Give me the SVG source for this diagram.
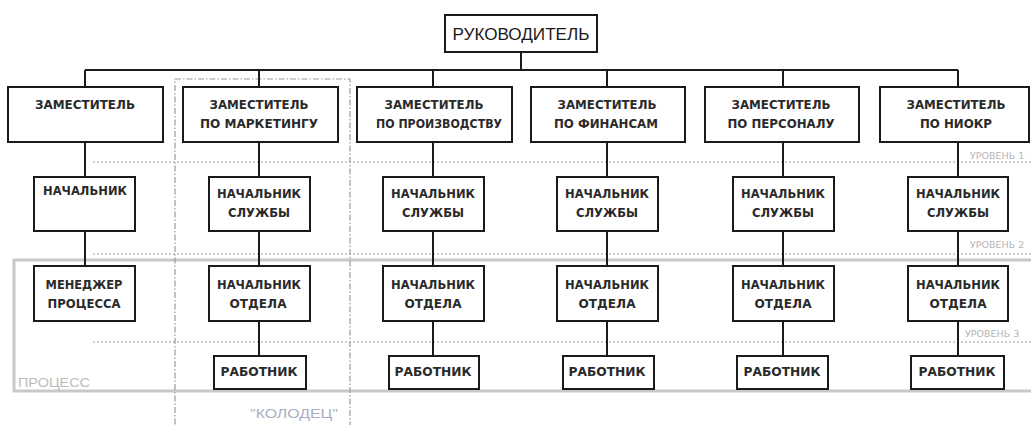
<svg xmlns="http://www.w3.org/2000/svg" width="1031" height="425" viewBox="0 0 1031 425">
  <style>
    .box { fill: #ffffff; stroke: #1a1a1a; stroke-width: 2; }
    .wire { fill: none; stroke: #1a1a1a; stroke-width: 2; }
    .lbl { font-family: "DejaVu Sans", Verdana, sans-serif; font-size: 11.5px; font-weight: bold; fill: #2a2a2a; text-anchor: middle; }
    .title { font-family: "Liberation Sans", Arial, sans-serif; font-size: 17px; fill: #1a1a1a; text-anchor: middle; }
    .level { fill: none; stroke: #9a9a9a; stroke-width: 1; stroke-dasharray: 2 2; }
    .note { font-family: "DejaVu Sans", Verdana, sans-serif; font-size: 9.5px; fill: #b4b4b4; }
    .tag { font-family: "Liberation Sans", Arial, sans-serif; font-size: 13px; }
  </style>

  <rect width="1031" height="425" fill="#ffffff"/>

  <!-- process frame -->
  <g id="process">
    <rect x="14" y="260" width="1030" height="131" fill="none" stroke="#c8c8c8" stroke-width="3"/>
    <text class="tag" x="18" y="387" fill="#bcbcbc" textLength="72" lengthAdjust="spacingAndGlyphs">ПРОЦЕСС</text>
  </g>

  <!-- well frame -->
  <g id="well">
    <rect x="175" y="79" width="175" height="360" fill="none" stroke="#9a9a9a" stroke-width="1.2" stroke-dasharray="6 2 1.5 2"/>
    <text class="tag" x="250" y="418" fill="#a8aec0" textLength="88" lengthAdjust="spacingAndGlyphs">"КОЛОДЕЦ"</text>
  </g>

  <!-- level separators -->
  <g id="levels">
    <line class="level" x1="93" y1="162" x2="1031" y2="162"/>
    <line class="level" x1="93" y1="254" x2="1031" y2="254"/>
    <line class="level" x1="93" y1="342" x2="1031" y2="342"/>
    <text class="note" x="970" y="159">УРОВЕНЬ 1</text>
    <text class="note" x="970" y="248">УРОВЕНЬ 2</text>
    <text class="note" x="965" y="337">УРОВЕНЬ 3</text>
  </g>

  <!-- connectors -->
  <g id="connectors">
    <path class="wire" d="M521 52 V70 M85 70 H958"/>
    <path class="wire" d="M85 70 V87 M85 142 V177 M85 231 V266"/>
    <path class="wire" d="M259 70 V87 M259 142 V177 M259 231 V266 M259 321 V356"/>
    <path class="wire" d="M433 70 V87 M433 142 V177 M433 231 V266 M433 321 V356"/>
    <path class="wire" d="M607 70 V87 M607 142 V177 M607 231 V266 M607 321 V356"/>
    <path class="wire" d="M783 70 V87 M783 142 V177 M783 231 V266 M783 321 V356"/>
    <path class="wire" d="M958 70 V87 M958 142 V177 M958 231 V266 M958 321 V356"/>
  </g>

  <!-- head -->
  <g id="head">
    <rect class="box" x="445" y="15" width="152" height="37"/>
    <text class="title" x="521" y="40" textLength="137" lengthAdjust="spacingAndGlyphs">РУКОВОДИТЕЛЬ</text>
  </g>

  <!-- deputies -->
  <g id="dep1">
    <rect class="box" x="8" y="87" width="155" height="55"/>
    <text class="lbl" x="85" y="109" textLength="100" lengthAdjust="spacingAndGlyphs">ЗАМЕСТИТЕЛЬ</text>
  </g>
  <g id="dep2">
    <rect class="box" x="183" y="87" width="155" height="55"/>
    <text class="lbl" x="259" y="109" textLength="99" lengthAdjust="spacingAndGlyphs">ЗАМЕСТИТЕЛЬ</text>
    <text class="lbl" x="259" y="128" textLength="118" lengthAdjust="spacingAndGlyphs">ПО МАРКЕТИНГУ</text>
  </g>
  <g id="dep3">
    <rect class="box" x="357" y="87" width="155" height="55"/>
    <text class="lbl" x="434" y="109" textLength="99" lengthAdjust="spacingAndGlyphs">ЗАМЕСТИТЕЛЬ</text>
    <text class="lbl" x="439" y="128" textLength="126" lengthAdjust="spacingAndGlyphs">ПО ПРОИЗВОДСТВУ</text>
  </g>
  <g id="dep4">
    <rect class="box" x="531" y="87" width="154" height="55"/>
    <text class="lbl" x="607" y="109" textLength="99" lengthAdjust="spacingAndGlyphs">ЗАМЕСТИТЕЛЬ</text>
    <text class="lbl" x="606" y="128" textLength="104" lengthAdjust="spacingAndGlyphs">ПО ФИНАНСАМ</text>
  </g>
  <g id="dep5">
    <rect class="box" x="705" y="87" width="154" height="55"/>
    <text class="lbl" x="781" y="109" textLength="99" lengthAdjust="spacingAndGlyphs">ЗАМЕСТИТЕЛЬ</text>
    <text class="lbl" x="781" y="128" textLength="107" lengthAdjust="spacingAndGlyphs">ПО ПЕРСОНАЛУ</text>
  </g>
  <g id="dep6">
    <rect class="box" x="880" y="87" width="149" height="55"/>
    <text class="lbl" x="956" y="109" textLength="99" lengthAdjust="spacingAndGlyphs">ЗАМЕСТИТЕЛЬ</text>
    <text class="lbl" x="956" y="128" textLength="72" lengthAdjust="spacingAndGlyphs">ПО НИОКР</text>
  </g>

  <!-- service heads -->
  <g id="head1">
    <rect class="box" x="34" y="177" width="101" height="54"/>
    <text class="lbl" x="85" y="195" textLength="84" lengthAdjust="spacingAndGlyphs">НАЧАЛЬНИК</text>
  </g>
  <g id="svc2">
    <rect class="box" x="209" y="177" width="101" height="54"/>
    <text class="lbl" x="259" y="198" textLength="84" lengthAdjust="spacingAndGlyphs">НАЧАЛЬНИК</text>
    <text class="lbl" x="259" y="217" textLength="62" lengthAdjust="spacingAndGlyphs">СЛУЖБЫ</text>
  </g>
  <g id="svc3">
    <rect class="box" x="383" y="177" width="101" height="54"/>
    <text class="lbl" x="433" y="198" textLength="84" lengthAdjust="spacingAndGlyphs">НАЧАЛЬНИК</text>
    <text class="lbl" x="433" y="217" textLength="62" lengthAdjust="spacingAndGlyphs">СЛУЖБЫ</text>
  </g>
  <g id="svc4">
    <rect class="box" x="557" y="177" width="101" height="54"/>
    <text class="lbl" x="607" y="198" textLength="84" lengthAdjust="spacingAndGlyphs">НАЧАЛЬНИК</text>
    <text class="lbl" x="607" y="217" textLength="62" lengthAdjust="spacingAndGlyphs">СЛУЖБЫ</text>
  </g>
  <g id="svc5">
    <rect class="box" x="733" y="177" width="101" height="54"/>
    <text class="lbl" x="783" y="198" textLength="84" lengthAdjust="spacingAndGlyphs">НАЧАЛЬНИК</text>
    <text class="lbl" x="783" y="217" textLength="62" lengthAdjust="spacingAndGlyphs">СЛУЖБЫ</text>
  </g>
  <g id="svc6">
    <rect class="box" x="908" y="177" width="100" height="54"/>
    <text class="lbl" x="958" y="198" textLength="84" lengthAdjust="spacingAndGlyphs">НАЧАЛЬНИК</text>
    <text class="lbl" x="958" y="217" textLength="62" lengthAdjust="spacingAndGlyphs">СЛУЖБЫ</text>
  </g>

  <!-- department heads -->
  <g id="mgr1">
    <rect class="box" x="34" y="266" width="101" height="55"/>
    <text class="lbl" x="84" y="289" textLength="77" lengthAdjust="spacingAndGlyphs">МЕНЕДЖЕР</text>
    <text class="lbl" x="84" y="308" textLength="73" lengthAdjust="spacingAndGlyphs">ПРОЦЕССА</text>
  </g>
  <g id="dept2">
    <rect class="box" x="209" y="266" width="101" height="55"/>
    <text class="lbl" x="259" y="289" textLength="84" lengthAdjust="spacingAndGlyphs">НАЧАЛЬНИК</text>
    <text class="lbl" x="258" y="308" textLength="57" lengthAdjust="spacingAndGlyphs">ОТДЕЛА</text>
  </g>
  <g id="dept3">
    <rect class="box" x="383" y="266" width="101" height="55"/>
    <text class="lbl" x="433" y="289" textLength="84" lengthAdjust="spacingAndGlyphs">НАЧАЛЬНИК</text>
    <text class="lbl" x="433" y="308" textLength="57" lengthAdjust="spacingAndGlyphs">ОТДЕЛА</text>
  </g>
  <g id="dept4">
    <rect class="box" x="557" y="266" width="101" height="55"/>
    <text class="lbl" x="607" y="289" textLength="84" lengthAdjust="spacingAndGlyphs">НАЧАЛЬНИК</text>
    <text class="lbl" x="607" y="308" textLength="57" lengthAdjust="spacingAndGlyphs">ОТДЕЛА</text>
  </g>
  <g id="dept5">
    <rect class="box" x="733" y="266" width="101" height="55"/>
    <text class="lbl" x="783" y="289" textLength="84" lengthAdjust="spacingAndGlyphs">НАЧАЛЬНИК</text>
    <text class="lbl" x="783" y="308" textLength="57" lengthAdjust="spacingAndGlyphs">ОТДЕЛА</text>
  </g>
  <g id="dept6">
    <rect class="box" x="908" y="266" width="100" height="55"/>
    <text class="lbl" x="958" y="289" textLength="84" lengthAdjust="spacingAndGlyphs">НАЧАЛЬНИК</text>
    <text class="lbl" x="958" y="308" textLength="57" lengthAdjust="spacingAndGlyphs">ОТДЕЛА</text>
  </g>

  <!-- workers -->
  <g id="work2">
    <rect class="box" x="214" y="356" width="92" height="33"/>
    <text class="lbl" x="259" y="376" textLength="77" lengthAdjust="spacingAndGlyphs">РАБОТНИК</text>
  </g>
  <g id="work3">
    <rect class="box" x="389" y="356" width="90" height="33"/>
    <text class="lbl" x="433" y="376" textLength="77" lengthAdjust="spacingAndGlyphs">РАБОТНИК</text>
  </g>
  <g id="work4">
    <rect class="box" x="563" y="356" width="91" height="33"/>
    <text class="lbl" x="607" y="376" textLength="77" lengthAdjust="spacingAndGlyphs">РАБОТНИК</text>
  </g>
  <g id="work5">
    <rect class="box" x="737" y="356" width="91" height="33"/>
    <text class="lbl" x="782" y="376" textLength="77" lengthAdjust="spacingAndGlyphs">РАБОТНИК</text>
  </g>
  <g id="work6">
    <rect class="box" x="911" y="356" width="93" height="33"/>
    <text class="lbl" x="957" y="376" textLength="77" lengthAdjust="spacingAndGlyphs">РАБОТНИК</text>
  </g>
</svg>
